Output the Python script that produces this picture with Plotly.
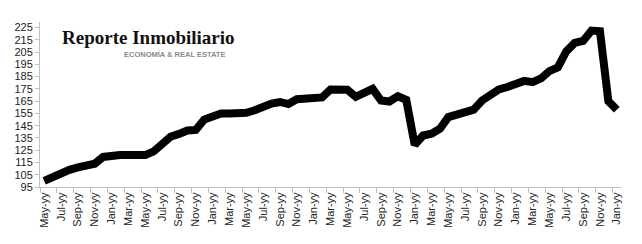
import plotly.graph_objects as go

months = ["May", "Jun", "Jul", "Aug", "Sep", "Oct", "Nov", "Dec", "Jan", "Feb", "Mar", "Apr"]
n_points = 69
categories = [months[i % 12] + "-yy" for i in range(n_points)]

values = [
    100, 103.5, 106.5, 109, 111, 112.5, 114, 119.5, 121, 121,
    121, 121, 121, 124, 131, 136, 138.3, 141, 141.5, 150,
    152.5, 155, 155, 155, 155.5, 157.5, 161, 163, 164.3, 162.6,
    166.5, 167, 166.5, 168, 174.5, 174.3, 174.3, 168.5, 172, 175,
    165.5, 164.7, 169, 166, 129.5, 137, 138.5, 142.5, 152, 154,
    156.5, 158, 165.5, 170, 174.5, 176.5, 178.8, 181.5, 180.5, 183.5,
    189.5, 192.5, 205.5, 212.5, 214, 222.5, 222, 165, 158,
]

y_ticks = list(range(95, 226, 10))

x_idx = list(range(n_points))
tick_pos = x_idx[::2]
tick_text = categories[::2]

fig = go.Figure()
fig.add_trace(go.Scatter(
    x=x_idx, y=values, mode="lines",
    line=dict(color="black", width=8),
    hoverinfo="skip", showlegend=False,
))

fig.update_layout(
    width=642, height=244,
    margin=dict(l=40, r=21, t=22, b=57),
    paper_bgcolor="white", plot_bgcolor="white",
    font=dict(family="Liberation Sans, Arial, sans-serif", size=11, color="#222"),
    xaxis=dict(
        range=[-0.5, n_points - 0.5],
        tickvals=tick_pos, ticktext=tick_text, tickangle=-90,
        showgrid=False, zeroline=False,
        showline=True, linecolor="#bfbfbf", linewidth=1,
        ticks="",
        minor=dict(ticks="outside", tick0=-0.5, dtick=2, ticklen=5,
                   tickcolor="#bfbfbf", showgrid=False),
        tickfont=dict(size=11, color="#222"),
    ),
    yaxis=dict(
        range=[95, 229.5],
        tickvals=y_ticks,
        showgrid=False, zeroline=False,
        showline=True, linecolor="#bfbfbf", linewidth=1,
        ticks="outside", ticklen=4, tickcolor="#bfbfbf",
        tickfont=dict(size=11, color="#222"),
    ),
    annotations=[
        dict(text="<b>Reporte Inmobiliario</b>", xref="paper", yref="paper",
             x=(60 - 40) / 581, y=1 - (37 - 22) / 165, xanchor="left", yanchor="middle",
             showarrow=False,
             font=dict(family="Liberation Serif, DejaVu Serif, serif", size=19, color="#111")),
        dict(text="<b>ECONOMÍA &amp; REAL ESTATE</b>", xref="paper", yref="paper",
             x=(122 - 40) / 581, y=1 - (54 - 22) / 165, xanchor="left", yanchor="middle",
             showarrow=False,
             font=dict(family="Liberation Sans, Arial, sans-serif", size=7.5, color="#8a8a8a")),
    ],
)

fig.write_html("out.html")
